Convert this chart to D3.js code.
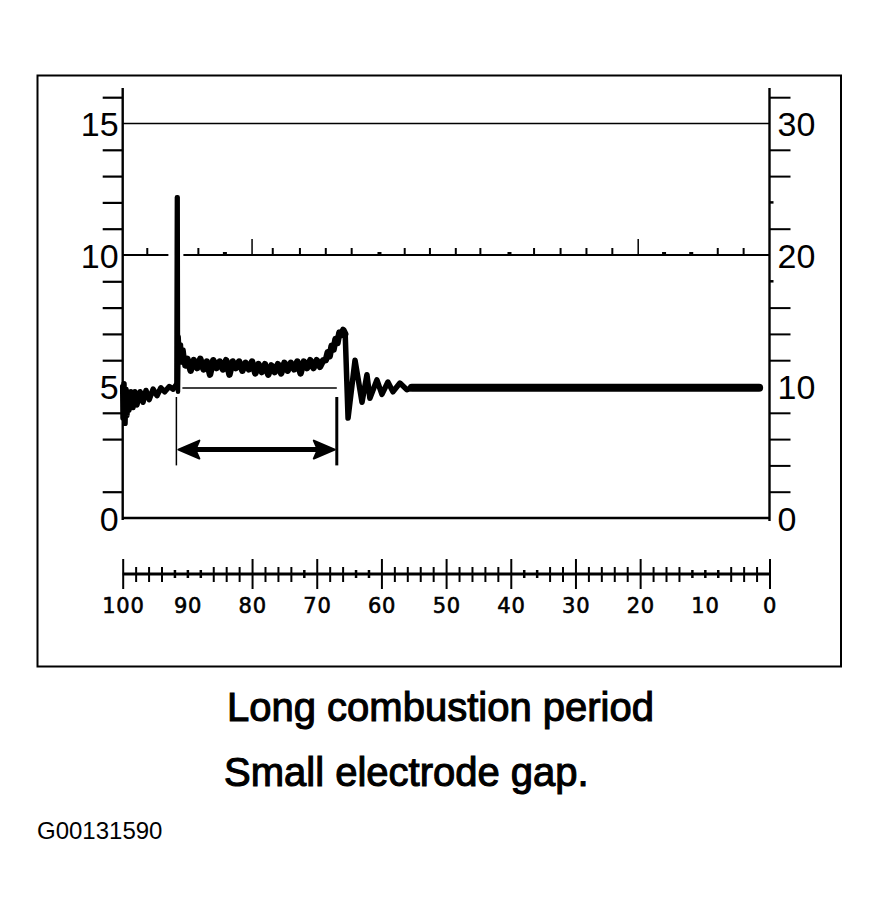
<!DOCTYPE html>
<html>
<head>
<meta charset="utf-8">
<script src="https://cdn.jsdelivr.net/npm/d3@7"></script>
<style>
  body { margin: 0; background: #fff; }
  svg { display: block; }
  .lbl { font-family: "Liberation Sans", Arial, sans-serif; fill: #000; }
  .ms { font-family: "DejaVu Sans", sans-serif; fill: #000; }
</style>
</head>
<body>
<div id="chart"></div>
<script>
// left scale (kV), right scale (kV x2), bottom scale (ms / degrees)
const leftLabels = [0, 5, 10, 15];
const leftTicks = [1, 3, 4, 6, 7, 8, 9, 11, 12, 13, 14, 16];
const rightLabels = [0, 10, 20, 30];
const rightTicks = [2, 4, 6, 8, 12, 14, 16, 22, 26, 28, 32];
const rightShortTicks = [18, 24];
const gridLines = [0, 10, 15];
const bottomLabels = [100, 90, 80, 70, 60, 50, 40, 30, 20, 10, 0];
const bottomMajorTicks = [100, 80, 70, 60, 50, 40, 30, 20, 0];
const bottomMinorTicks = [98, 96, 94, 86, 84, 82, 78, 76, 74, 68, 66, 58, 56, 54, 52,
  48, 46, 44, 42, 34, 32, 28, 26, 24, 22, 18, 16, 14, 6, 4, 2];
const bottomShortTicks = [92, 90, 88, 72, 64, 62, 38, 36, 12, 10, 8];
// little marks sitting on the 10 kV line
const gridMarks = [96.2, 88.3, 76.8, 72.6, 68.6, 64.6, 56.4, 52.5, 48.5, 44.7,
  36.4, 32.3, 28.3, 24.3, 8.0, 4.0];
const gridMarksTall = [80, 20.3];
const gridMarksDots = [84.2, 60.3, 40.2, 16.3, 12.1];

// trace: [position, kV]
const preIgnition = [
  [100, 5.0], [99.95, 3.8], [99.8, 5.1], [99.64, 3.6], [99.49, 4.9], [99.34, 3.9],
  [99.18, 4.8], [99.03, 4.1], [98.72, 4.8], [98.41, 4.2], [98.1, 4.8], [97.8, 4.3],
  [97.3, 4.8], [96.86, 4.4], [96.4, 4.85], [95.9, 4.5], [95.3, 4.9], [94.7, 4.65],
  [94.1, 4.95], [93.5, 4.8], [92.8, 5.0], [92.2, 4.9], [91.76, 5.05]
];
const firingSpike = [
  [91.7, 5.0], [91.62, 12.2], [91.5, 12.2], [91.45, 4.8], [91.35, 6.9], [91.2, 6.2],
  [91.0, 6.6], [90.8, 5.9], [90.6, 6.4], [90.3, 5.8]
];
const burnLine = [
  [90.0, 6.05], [89.5, 5.6], [89.0, 6.0], [88.5, 5.7], [88.0, 6.05], [87.5, 5.65],
  [87.0, 5.95], [86.5, 5.45], [86.0, 6.0], [85.5, 5.7], [85.0, 5.95], [84.5, 5.65],
  [84.0, 6.0], [83.5, 5.45], [83.0, 5.95], [82.5, 5.7], [82.0, 5.95], [81.5, 5.6],
  [81.0, 5.9], [80.5, 5.65], [80.0, 5.95], [79.5, 5.5], [79.0, 5.85], [78.5, 5.55],
  [78.0, 5.85], [77.5, 5.45], [77.0, 5.8], [76.5, 5.55], [76.0, 5.85], [75.5, 5.5],
  [75.0, 5.9], [74.5, 5.6], [74.0, 5.9], [73.5, 5.65], [73.0, 5.95], [72.5, 5.5],
  [72.0, 5.95], [71.5, 5.7], [71.0, 6.0], [70.5, 5.7], [70.0, 6.0], [69.5, 5.75],
  [69.0, 6.0], [68.6, 6.0], [68.3, 6.3], [68.0, 6.15], [67.7, 6.55], [67.4, 6.4],
  [67.1, 6.8], [66.8, 6.65], [66.5, 7.05], [66.2, 6.95], [65.9, 7.15], [65.6, 7.0]
];
const coilRinging = [
  [65.16, 3.8], [64.08, 6.0], [63.0, 4.4], [62.24, 5.45], [61.78, 4.55], [60.7, 5.25],
  [59.92, 4.7], [59.0, 5.17], [58.22, 4.8], [57.14, 5.13], [56.06, 4.88], [55.3, 4.95]
];
const settledLine = [[55.3, 4.95], [1.6, 4.95]];

// burn-time marker
const burnStart = 91.7;
const burnEnd = 66.9;
const markerLevel = 4.94;
const markerTop = 4.6;
const markerBottom = 2.0;
const arrowLevel = 2.6;

const titleLines = ["Long combustion period", "Small electrode gap."];
const figureId = "G00131590";

const W = 879, H = 910;
const svg = d3.select("#chart").append("svg").attr("width", W).attr("height", H);

const x = d3.scaleLinear().domain([100, 0]).range([122.7, 769.5]);
const y = d3.scaleLinear().domain([0, 15]).range([518, 123.5]);
const yR = d3.scaleLinear().domain([0, 30]).range([518, 123.5]);
const axisTop = y(16.35);

// outer frame
svg.append("rect")
  .attr("x", 37.5).attr("y", 75.5)
  .attr("width", 803.5).attr("height", 591)
  .attr("fill", "none").attr("stroke", "#000").attr("stroke-width", 2);

// horizontal grid lines
const spikeGap = [x(burnStart) - 8, x(burnStart) + 7];
gridLines.forEach(v => {
  const w = v === 15 ? 1.5 : (v === 10 ? 2.2 : 2.6);
  const segs = v === 10 ? [[x.range()[0], spikeGap[0]], [spikeGap[1], x.range()[1]]]
                        : [x.range()];
  segs.forEach(s => {
    svg.append("line")
      .attr("x1", s[0]).attr("x2", s[1])
      .attr("y1", y(v)).attr("y2", y(v))
      .attr("stroke", "#000").attr("stroke-width", w);
  });
});

// marks on the 10 kV line
const markG = svg.append("g").attr("stroke", "#000").attr("stroke-width", 2);
gridMarks.forEach(v => markG.append("line")
  .attr("x1", x(v)).attr("x2", x(v)).attr("y1", y(10)).attr("y2", y(10) - 7));
gridMarksTall.forEach(v => markG.append("line")
  .attr("x1", x(v)).attr("x2", x(v)).attr("y1", y(10)).attr("y2", y(10) - 16)
  .attr("stroke-width", 1.5));
gridMarksDots.forEach(v => svg.append("rect")
  .attr("x", x(v) - 2).attr("y", y(10) - 3).attr("width", 4).attr("height", 3));

// left axis
const leftAxis = svg.append("g")
  .attr("transform", `translate(${x.range()[0]},0)`)
  .call(d3.axisLeft(y).tickValues(leftTicks).tickSize(20).tickFormat(""));
leftAxis.select(".domain").remove();
leftAxis.selectAll(".tick line").attr("stroke-width", 2.2);
svg.append("line")
  .attr("x1", x.range()[0]).attr("x2", x.range()[0])
  .attr("y1", axisTop).attr("y2", y(0) + 2)
  .attr("stroke", "#000").attr("stroke-width", 2.4);
svg.selectAll(".llbl").data(leftLabels).enter().append("text")
  .attr("class", "lbl")
  .attr("x", x.range()[0] - 4)
  .attr("y", d => y(d) + 12.5)
  .attr("text-anchor", "end")
  .attr("font-size", 34)
  .text(d => d);

// right axis
const rightAxis = svg.append("g")
  .attr("transform", `translate(${x.range()[1]},0)`)
  .call(d3.axisRight(yR).tickValues(rightTicks).tickSize(21).tickFormat(""));
rightAxis.select(".domain").remove();
rightAxis.selectAll(".tick line").attr("stroke-width", 2);
rightShortTicks.forEach(v => svg.append("line")
  .attr("x1", x.range()[1]).attr("x2", x.range()[1] + 4)
  .attr("y1", yR(v)).attr("y2", yR(v))
  .attr("stroke", "#000").attr("stroke-width", 2.5));
svg.append("line")
  .attr("x1", x.range()[1]).attr("x2", x.range()[1])
  .attr("y1", axisTop).attr("y2", y(0) + 3)
  .attr("stroke", "#000").attr("stroke-width", 2.4);
svg.selectAll(".rlbl").data(rightLabels).enter().append("text")
  .attr("class", "lbl")
  .attr("x", x.range()[1] + 8)
  .attr("y", d => yR(d) + 12.5)
  .attr("text-anchor", "start")
  .attr("font-size", 34)
  .text(d => d);

// bottom scale
const scaleY = 574;
svg.append("line")
  .attr("x1", x(100)).attr("x2", x(0))
  .attr("y1", scaleY).attr("y2", scaleY)
  .attr("stroke", "#000").attr("stroke-width", 3);
const bottomAxis = svg.append("g")
  .attr("transform", `translate(0,${scaleY - 15})`)
  .call(d3.axisBottom(x).tickValues(bottomMajorTicks).tickSize(30).tickFormat(""));
bottomAxis.select(".domain").remove();
bottomAxis.selectAll(".tick line").attr("stroke-width", 2);
const minorAxis = svg.append("g")
  .attr("transform", `translate(0,${scaleY - 7})`)
  .call(d3.axisBottom(x).tickValues(bottomMinorTicks).tickSize(15).tickFormat(""));
minorAxis.select(".domain").remove();
minorAxis.selectAll(".tick line").attr("stroke-width", 2);
const shortAxis = svg.append("g")
  .attr("transform", `translate(0,${scaleY - 4})`)
  .call(d3.axisBottom(x).tickValues(bottomShortTicks).tickSize(8).tickFormat(""));
shortAxis.select(".domain").remove();
shortAxis.selectAll(".tick line").attr("stroke-width", 2.5);
svg.selectAll(".blbl").data(bottomLabels).enter().append("text")
  .attr("class", "ms")
  .attr("x", d => x(d) + 0.7)
  .attr("y", scaleY + 39)
  .attr("text-anchor", "middle")
  .attr("font-size", 21)
  .attr("letter-spacing", 0.8)
  .attr("stroke", "#000").attr("stroke-width", 0.6)
  .text(d => d);

// waveform
const line = d3.line().x(d => x(d[0])).y(d => y(d[1]));
const trace = svg.append("g")
  .attr("fill", "none").attr("stroke", "#000")
  .attr("stroke-linejoin", "round").attr("stroke-linecap", "round");
trace.append("path").datum(preIgnition).attr("d", line).attr("stroke-width", 5.5);
trace.append("path").datum(firingSpike).attr("d", line).attr("stroke-width", 4.5);
trace.append("path").datum(firingSpike.slice(-1).concat(burnLine)).attr("d", line).attr("stroke-width", 6.5);
trace.append("path").datum(burnLine.slice(-1).concat(coilRinging)).attr("d", line).attr("stroke-width", 5.5);
trace.append("path").datum(settledLine).attr("d", line).attr("stroke-width", 8);

// burn-time marker
svg.append("line")
  .attr("x1", x(burnStart) + 6).attr("x2", x(burnEnd))
  .attr("y1", y(markerLevel)).attr("y2", y(markerLevel))
  .attr("stroke", "#000").attr("stroke-width", 1.5);
svg.append("line")
  .attr("x1", x(burnStart)).attr("x2", x(burnStart))
  .attr("y1", y(markerTop)).attr("y2", y(markerBottom))
  .attr("stroke", "#000").attr("stroke-width", 1.5);
svg.append("line")
  .attr("x1", x(burnEnd)).attr("x2", x(burnEnd))
  .attr("y1", y(markerTop)).attr("y2", y(markerBottom))
  .attr("stroke", "#000").attr("stroke-width", 3);
const ay = y(arrowLevel);
const ax0 = x(burnStart) + 2, ax1 = x(burnEnd) - 2;
svg.append("line")
  .attr("x1", ax0 + 10).attr("x2", ax1 - 10)
  .attr("y1", ay).attr("y2", ay)
  .attr("stroke", "#000").attr("stroke-width", 5);
svg.append("path")
  .attr("d", `M${ax0},${ay} L${ax0 + 21},${ay - 9} L${ax0 + 17},${ay} L${ax0 + 21},${ay + 9} Z`)
  .attr("fill", "#000").attr("stroke", "#000").attr("stroke-width", 2).attr("stroke-linejoin", "round");
svg.append("path")
  .attr("d", `M${ax1},${ay} L${ax1 - 21},${ay - 9} L${ax1 - 17},${ay} L${ax1 - 21},${ay + 9} Z`)
  .attr("fill", "#000").attr("stroke", "#000").attr("stroke-width", 2).attr("stroke-linejoin", "round");

// caption
svg.selectAll(".title").data(titleLines).enter().append("text")
  .attr("class", "lbl")
  .attr("x", (d, i) => i === 0 ? 227 : 224)
  .attr("y", (d, i) => i === 0 ? 721 : 786)
  .attr("font-size", 40)
  .attr("stroke", "#000").attr("stroke-width", 1.1)
  .text(d => d);
svg.append("text")
  .attr("class", "lbl")
  .attr("x", 37).attr("y", 839)
  .attr("font-size", 24)
  .text(figureId);
</script>
</body>
</html>
